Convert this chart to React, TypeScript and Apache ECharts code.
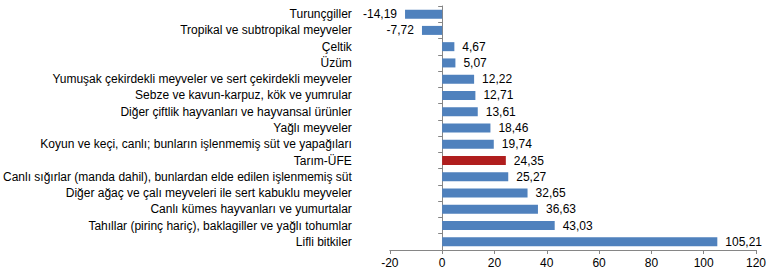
import React, { useEffect, useRef } from "react";
import * as echarts from "echarts";

const categories = [
  "Turunçgiller",
  "Tropikal ve subtropikal meyveler",
  "Çeltik",
  "Üzüm",
  "Yumuşak çekirdekli meyveler ve sert çekirdekli meyveler",
  "Sebze ve kavun-karpuz, kök ve yumrular",
  "Diğer çiftlik hayvanları ve hayvansal ürünler",
  "Yağlı meyveler",
  "Koyun ve keçi, canlı; bunların işlenmemiş süt ve yapağıları",
  "Tarım-ÜFE",
  "Canlı sığırlar (manda dahil), bunlardan elde edilen işlenmemiş süt",
  "Diğer ağaç ve çalı meyveleri ile sert kabuklu meyveler",
  "Canlı kümes hayvanları ve yumurtalar",
  "Tahıllar (pirinç hariç), baklagiller ve yağlı tohumlar",
  "Lifli bitkiler",
];

const values = [
  -14.19, -7.72, 4.67, 5.07, 12.22, 12.71, 13.61, 18.46, 19.74, 24.35, 25.27,
  32.65, 36.63, 43.03, 105.21,
];

const highlighted = "Tarım-ÜFE";
const axisMin = -20;
const axisMax = 120;
const axisStep = 20;

const BLUE = "#4F81BD";
const RED = "#B01E1E";
const FONT = "'Liberation Sans', Arial, sans-serif";

export default function App() {
  const ref = useRef<HTMLDivElement>(null);

  useEffect(() => {
    if (!ref.current) return;
    const chart = echarts.init(ref.current, undefined, { renderer: "svg" });
    const data = values.map((v, i) => ({
      value: v,
      itemStyle: { color: categories[i] === highlighted ? RED : BLUE },
      label: { position: v < 0 ? "left" : "right" },
    }));
    chart.setOption({
      animation: false,
      textStyle: { fontFamily: FONT },
      grid: { left: 388, right: 16, top: 6, bottom: 30, containLabel: false },
      xAxis: {
        type: "value",
        min: axisMin,
        max: axisMax,
        interval: axisStep,
        splitLine: { show: false },
        axisLine: { show: true, onZero: false, lineStyle: { color: "#868686", width: 1 } },
        axisTick: { show: true, length: 4, lineStyle: { color: "#868686" } },
        axisLabel: { color: "#000", fontSize: 12, fontFamily: FONT, margin: 7 },
      },
      yAxis: [
        {
          type: "category",
          position: "left",
          inverse: true,
          data: categories,
          axisLine: { show: true, onZero: true, lineStyle: { color: "#868686", width: 1 } },
          axisTick: { show: true, length: 4, lineStyle: { color: "#868686" } },
          axisLabel: { show: false },
        },
        {
          type: "category",
          position: "left",
          inverse: true,
          data: categories,
          axisLine: { show: false, onZero: false },
          axisTick: { show: false },
          axisLabel: { color: "#000", fontSize: 12, fontFamily: FONT, margin: 38 },
        },
      ],
      series: [
        {
          type: "bar",
          yAxisIndex: 0,
          barWidth: 9,
          data,
          label: {
            show: true,
            distance: 8,
            color: "#000",
            fontSize: 12,
            fontFamily: FONT,
            formatter: (p: any) => Number(p.value).toFixed(2).replace(".", ","),
          },
        },
      ],
    });
    return () => chart.dispose();
  }, []);

  return (
    <div
      ref={ref}
      style={{ position: "absolute", left: 0, top: 0, width: 772, height: 280, background: "#fff" }}
    />
  );
}
